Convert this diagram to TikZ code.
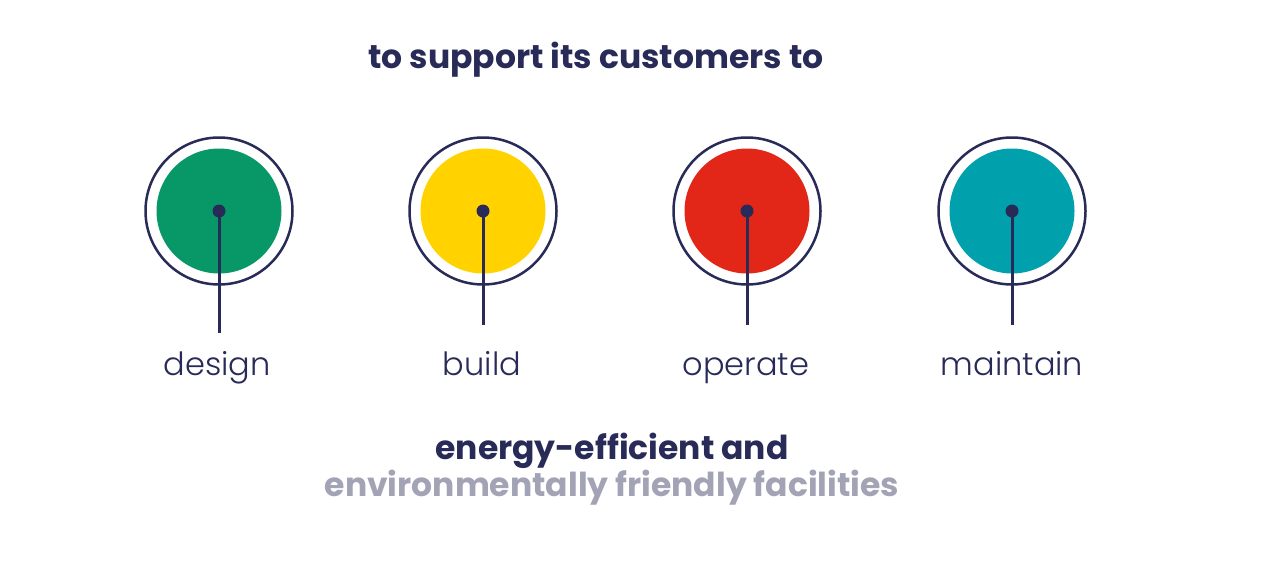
\documentclass[tikz,border=0pt]{standalone}
\usepackage{fontspec}
\setmainfont{Poppins}
\newfontfamily\lightfont{Poppins Light}
\newfontfamily\boldfont{Poppins Bold}
\usetikzlibrary{positioning}

\definecolor{navy}{RGB}{40,42,88}
\definecolor{greyblue}{RGB}{163,163,182}
\definecolor{dgreen}{RGB}{8,152,104}
\definecolor{dyellow}{RGB}{255,210,0}
\definecolor{dred}{RGB}{226,38,24}
\definecolor{dteal}{RGB}{0,160,172}

\tikzset{
  ring/.style={draw=navy, line width=2.5pt, circle, minimum size=147pt, inner sep=0pt},
  disk/.style={circle, minimum size=125pt, inner sep=0pt},
  hub/.style={circle, fill=navy, minimum size=13pt, inner sep=0pt},
  stem/.style={navy, line width=3pt},
  word/.style={navy, anchor=base, font=\lightfont\fontsize{32}{36}\selectfont},
  headline/.style={anchor=base, font=\boldfont\fontsize{33}{37}\selectfont},
}

\begin{document}
\begin{tikzpicture}[x=1pt, y=-1pt]
\useasboundingbox[fill=white] (0,0) rectangle (1268,573);

\node[headline, navy] (title) at (596,68) {to support its customers to};

\node[ring] (r1) at (219,211) {};
\node[ring] (r2) at (483,211) {};
\node[ring] (r3) at (747,211) {};
\node[ring] (r4) at (1012,211) {};

\node[disk, fill=dgreen] (d1) at (219,211) {};
\node[disk, fill=dyellow] (d2) at (483,211) {};
\node[disk, fill=dred] (d3) at (747,211) {};
\node[disk, fill=dteal] (d4) at (1012,211) {};

\node[hub] (h1) at (219,211) {};
\node[hub] (h2) at (483,211) {};
\node[hub] (h3) at (747,211) {};
\node[hub] (h4) at (1012,211) {};

\coordinate (e1) at (219,333);
\coordinate (e2) at (483,325);
\coordinate (e3) at (747,325);
\coordinate (e4) at (1012,325);

\draw[stem] (h1.center) -- (e1);
\draw[stem] (h2.center) -- (e2);
\draw[stem] (h3.center) -- (e3);
\draw[stem] (h4.center) -- (e4);

\node[word] (w1) at (217,375) {design};
\node[word] (w2) at (482,375) {build};
\node[word] (w3) at (746,375) {operate};
\node[word] (w4) at (1012,375) {maintain};

\node[headline, navy] (goal) at (612,459) {energy-efficient and};
\node[headline, greyblue] (goal2) at (612,496) {environmentally friendly facilities};
\end{tikzpicture}
\end{document}
